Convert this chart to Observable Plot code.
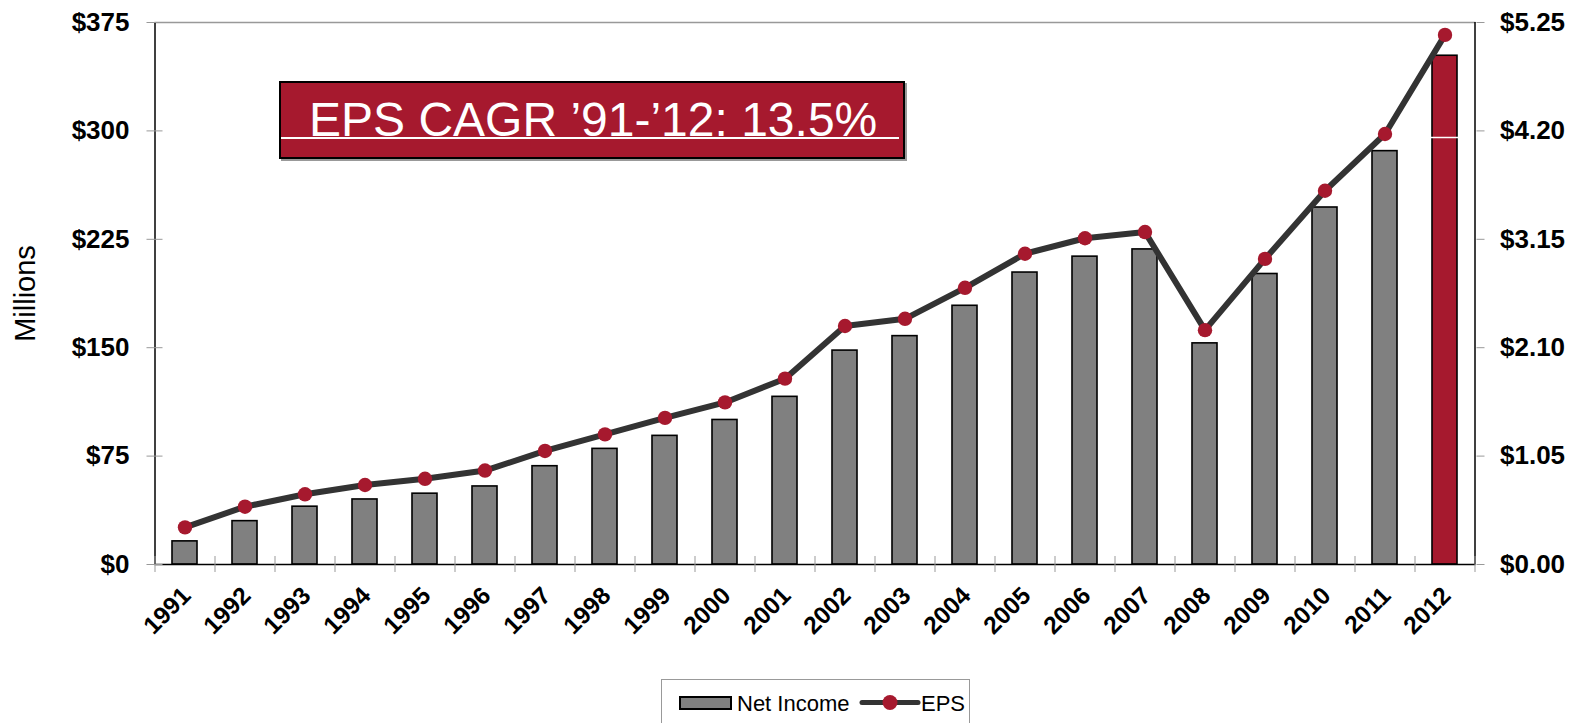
<!DOCTYPE html>
<html><head><meta charset="utf-8">
<script src="https://cdn.jsdelivr.net/npm/d3@7"></script>
<script src="https://cdn.jsdelivr.net/npm/@observablehq/plot@0.6"></script>
<style>
body{margin:0;background:#fff;font-family:"Liberation Sans",Arial,sans-serif;}
#wrap{position:relative;width:1575px;height:723px;overflow:hidden;}
#title{position:absolute;left:279px;top:81px;width:626px;height:78px;box-sizing:border-box;background:#A6192E;border:2px solid #000;box-shadow:2px 2px 0 #999;}
#title span{position:absolute;left:28px;top:13px;color:#fff;font-size:48px;line-height:48px;white-space:nowrap;}
#title .wl{position:absolute;left:0;right:4px;top:54px;height:1.5px;background:#fff;}
#legend{position:absolute;left:661px;top:679px;width:309px;height:60px;box-sizing:border-box;border:1px solid #999;}
</style></head>
<body><div id="wrap"></div>
<script>
const years = ["1991","1992","1993","1994","1995","1996","1997","1998","1999","2000","2001","2002","2003","2004","2005","2006","2007","2008","2009","2010","2011","2012"];
const netIncome = [16,30,40,45,49,54,68,80,89,100,116,148,158,179,202,213,218,153,201,247,286,352];
const eps = [0.36,0.56,0.68,0.77,0.83,0.91,1.10,1.26,1.42,1.57,1.80,2.31,2.38,2.68,3.01,3.16,3.22,2.27,2.96,3.62,4.17,5.13];
const leftTicks = [0,75,150,225,300,375];
const yMax = 375, epsMax = 5.25;
const k = yMax/epsMax;
const titleText = "EPS CAGR \u201991-\u201912: 13.5%";
const red = "#A6192E", gray = "#808080";
const data = years.map((y,i)=>({year:y, net:netIncome[i], eps:eps[i]}));
const font = '"Liberation Sans", Arial, sans-serif';

const chart = Plot.plot({
  width:1575, height:675,
  marginLeft:154.5, marginRight:99.5, marginTop:22, marginBottom:111,
  style:{fontFamily:font, background:"#fff", overflow:"visible"},
  x:{type:"band", domain:years, paddingInner:0.58, paddingOuter:0.29, align:0.5},
  y:{domain:[0,yMax]},
  marks:[
    Plot.ruleY([yMax], {stroke:"#999", strokeWidth:1.5}),
    Plot.barY(data.filter(d=>d.year!=="2012"), {x:"year", y:"net", fill:gray, stroke:"#000", strokeWidth:1.6}),
    Plot.barY(data.filter(d=>d.year==="2012"), {x:"year", y:"net", fill:red, stroke:"#000", strokeWidth:1.6}),
    Plot.ruleY([295.5], {stroke:"#fff", strokeWidth:1.5}),
    Plot.ruleY([0], {stroke:"#000", strokeWidth:1.5}),
    Plot.ruleX([years[0]], {dx:-30, stroke:"#000", strokeWidth:1.5}),
    Plot.ruleX([years[years.length-1]], {dx:30, stroke:"#000", strokeWidth:1.5}),
    Plot.lineY(data, {x:"year", y:d=>d.eps*k, stroke:"#333", strokeWidth:6}),
    Plot.dot(data, {x:"year", y:d=>d.eps*k, r:7.2, fill:red, stroke:null}),
    Plot.axisY({anchor:"left", ticks:leftTicks, tickFormat:d=>"$"+d, tickSize:16, dx:8, tickPadding:17.5, stroke:"#999", fill:"#000", fontSize:26, fontWeight:"bold", label:null}),
    Plot.axisY({anchor:"right", ticks:leftTicks, tickFormat:d=>"$"+(d/k).toFixed(2), tickSize:8, tickPadding:16, stroke:"#999", fill:"#000", fontSize:26, fontWeight:"bold", label:null}),
    Plot.axisX({ticks:years, tickSize:16, dx:-30, dy:-8, text:null, stroke:"#999", label:null}),
    Plot.axisX({ticks:[years[years.length-1]], tickSize:16, dx:30, dy:-8, text:null, stroke:"#999", label:null}),
    Plot.axisX({ticks:years, tickSize:0, tickRotate:-45, tickPadding:14, dy:13, dx:1.5, fill:"#000", fontSize:24.5, fontWeight:"bold", label:null}),
    Plot.text(["Millions"], {frameAnchor:"left", dx:-129, rotate:-90, textAnchor:"middle", lineAnchor:"middle", fontSize:29, fill:"#000"})
  ]
});
const wrap = document.getElementById("wrap");
wrap.appendChild(chart);

const title = document.createElement("div");
title.id = "title";
title.innerHTML = '<div class="wl"></div>';
const sp = document.createElement("span"); sp.textContent = titleText;
title.insertBefore(sp, title.firstChild);
wrap.appendChild(title);

const legend = document.createElement("div");
legend.id = "legend";
legend.innerHTML = `<svg width="309" height="60" style="position:absolute;left:0;top:0;font-family:${font.replace(/"/g,"'")}">
<rect x="18" y="17" width="51" height="12" fill="${gray}" stroke="#000" stroke-width="2"/>
<text x="75" y="23" dominant-baseline="central" font-size="22" fill="#000">Net Income</text>
<line x1="200" x2="256" y1="22.5" y2="22.5" stroke="#333" stroke-width="5" stroke-linecap="round"/>
<circle cx="228" cy="22.5" r="7.5" fill="${red}"/>
<text x="259" y="23" dominant-baseline="central" font-size="22" fill="#000">EPS</text>
</svg>`;
wrap.appendChild(legend);
</script></body></html>
